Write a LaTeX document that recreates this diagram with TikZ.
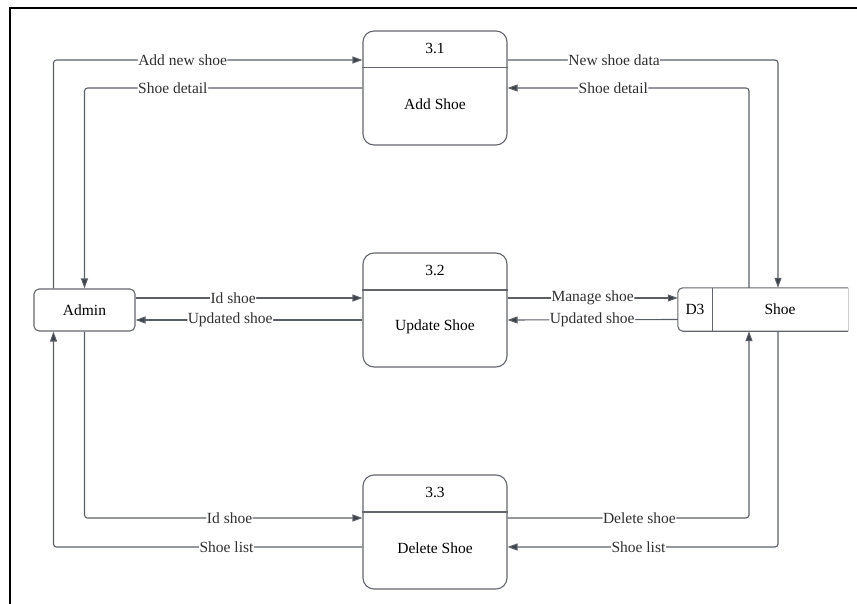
\documentclass[tikz,border=0pt]{standalone}
\usepackage{fontspec}
\setmainfont{Liberation Serif}
\usetikzlibrary{arrows.meta}

\definecolor{linegray}{HTML}{5A5F66}
\definecolor{tipgray}{HTML}{3C4048}
\definecolor{boxgray}{HTML}{62666C}
\definecolor{labelgray}{HTML}{303030}

\begin{document}
\begin{tikzpicture}[x=1pt, y=-1pt,
        every node/.style={font=\fontsize{15.5}{18}\selectfont},
        procbox/.style={draw=boxgray, line width=1.1pt, rounded corners=11pt,
            minimum width=144pt, minimum height=114pt, inner sep=0pt},
        entitybox/.style={draw=boxgray, line width=1.1pt, rounded corners=5pt,
            minimum width=101pt, minimum height=42pt, inner sep=0pt},
        flow/.style={draw=linegray, line width=1.1pt, rounded corners=3pt},
        arrowflow/.style={flow, -{Triangle[length=10pt, width=7pt, fill=tipgray]}},
        flowlabel/.style={fill=white, text=labelgray, inner sep=0.5pt}]
        \useasboundingbox (0, 0) rectangle (857, 604);

        % frame
        \draw[line width=2pt] (10, 604) -- (10, 8) -- (857, 8);

        % processes
        \foreach \n/\y/\t in {1/88/Add Shoe, 2/310/Update Shoe, 3/532/Delete Shoe} {
            \node[procbox] (p\n) at (435, \y) {};
            \draw[boxgray, line width=1.1pt] ([yshift=-37.5pt]p\n.north west) -- ([yshift=-37.5pt]p\n.north east);
            \node (p\n num) at ([yshift=-18pt]p\n.north) {3.\n};
            \node (p\n name) at ([yshift=-74pt]p\n.north) {\t};
        }

        % external entity
        \node[entitybox] (admin) at (84.5, 310) {Admin};

        % data store
        \node[minimum width=34pt, minimum height=43pt, inner sep=0pt] (d3) at (695, 309.5) {D3};
        \node[minimum width=136pt, minimum height=43pt, inner sep=0pt] (shoe) at (780, 309.5) {Shoe};
        \draw[boxgray, line width=1.1pt, rounded corners=5pt] (shoe.north east) -- (d3.north west) -- (d3.south west) -- (shoe.south east);
        \draw[boxgray, line width=1.1pt] (d3.north east) -- (d3.south east);
        \draw[gray!40, line width=1pt] (shoe.north east) -- (shoe.south east);

        % 3.1 flows
        \draw[arrowflow] ([xshift=-31pt]admin.north) |- node[flowlabel, pos=0.709] {Add new shoe} ([yshift=28pt]p1.west);
        \draw[arrowflow] (p1.west) -| node[flowlabel, pos=0.341] {Shoe detail} (admin.north);
        \draw[arrowflow] ([yshift=28pt]p1.east) -| node[flowlabel, pos=0.197] {New shoe data} ([xshift=-2pt]shoe.north);
        \draw[arrowflow] ([xshift=-31pt]shoe.north) |- node[flowlabel, pos=0.781] {Shoe detail} (p1.east);

        % 3.2 flows
        \draw[arrowflow] ([yshift=12pt]admin.east) -- node[flowlabel, pos=0.43] {Id shoe} ([yshift=12pt]p2.west);
        \draw[arrowflow] ([yshift=-10pt]p2.west) -- node[flowlabel, pos=0.583] {Updated shoe} ([yshift=-10pt]admin.east);
        \draw[arrowflow] ([yshift=12pt]p2.east) -- node[flowlabel, pos=0.5] {Manage shoe} ([yshift=11.5pt]d3.west);
        \draw[arrowflow] ([yshift=-10pt]d3.west) -- node[flowlabel, pos=0.503] {Updated shoe} ([yshift=-10pt]p2.east);

        % 3.3 flows
        \draw[arrowflow] (admin.south) |- node[flowlabel, pos=0.761] {Id shoe} ([yshift=14pt]p3.west);
        \draw[arrowflow] ([yshift=-15pt]p3.west) -| node[flowlabel, pos=0.22] {Shoe list} ([xshift=-31pt]admin.south);
        \draw[arrowflow] ([yshift=14pt]p3.east) -| node[flowlabel, pos=0.273] {Delete shoe} ([xshift=-31pt]shoe.south);
        \draw[arrowflow] ([xshift=-2pt]shoe.south) |- node[flowlabel, pos=0.758] {Shoe list} ([yshift=-15pt]p3.east);
    \end{tikzpicture}
\end{document}
